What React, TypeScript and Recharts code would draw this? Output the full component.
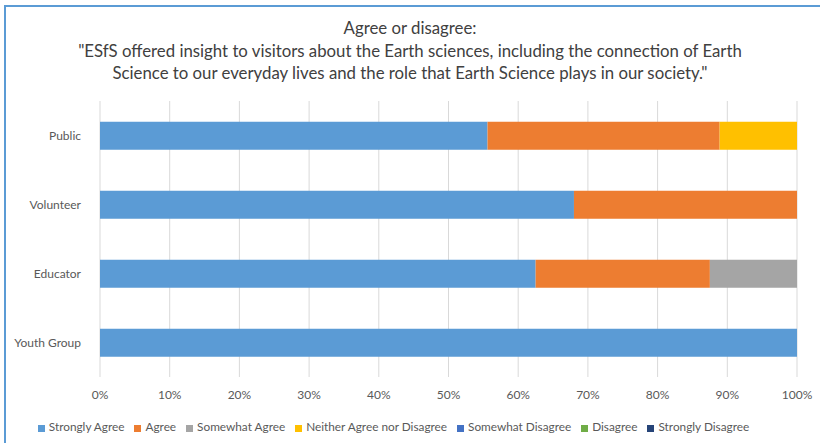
import { BarChart, Bar, XAxis, YAxis, CartesianGrid, Legend } from 'recharts';

const groups = ['Public', 'Volunteer', 'Educator', 'Youth Group'];
const stronglyAgree = [55.6, 68, 62.5, 100];
const agree = [33.3, 32, 25, 0];
const somewhatAgree = [0, 0, 12.5, 0];
const neither = [11.1, 0, 0, 0];
const somewhatDisagree = [0, 0, 0, 0];
const disagree = [0, 0, 0, 0];
const stronglyDisagree = [0, 0, 0, 0];
const xTicks = [0, 10, 20, 30, 40, 50, 60, 70, 80, 90, 100];

const series = [
  { key: 'Strongly Agree', values: stronglyAgree, color: '#5B9BD5' },
  { key: 'Agree', values: agree, color: '#ED7D31' },
  { key: 'Somewhat Agree', values: somewhatAgree, color: '#A5A5A5' },
  { key: 'Neither Agree nor Disagree', values: neither, color: '#FFC000' },
  { key: 'Somewhat Disagree', values: somewhatDisagree, color: '#4472C4' },
  { key: 'Disagree', values: disagree, color: '#70AD47' },
  { key: 'Strongly Disagree', values: stronglyDisagree, color: '#264478' },
];

const data = groups.map((g, i) => {
  const row: Record<string, string | number> = { group: g };
  series.forEach((s) => (row[s.key] = s.values[i]));
  return row;
});

const font = 'Lato, "Open Sans", sans-serif';
const order = (item: any) => series.findIndex((s) => s.key === item.value);

export default function App() {
  return (
    <div style={{ position: 'absolute', left: 0, top: 0, width: 820, height: 443, background: '#fff', overflow: 'hidden', fontFamily: font }}>
      <div style={{ position: 'absolute', left: 4, top: 5, width: 840, height: 460, borderLeft: '2px solid #5B9BD5', borderTop: '2px solid #5B9BD5' }} />
      <div style={{ position: 'absolute', left: 0, top: 17, width: 820, textAlign: 'center', color: '#404040', fontSize: 16.8, lineHeight: '22.5px' }}>
        Agree or disagree:
        <br />
        "ESfS offered insight to visitors about the Earth sciences, including the connection of Earth
        <br />
        Science to our everyday lives and the role that Earth Science plays in our society."
      </div>
      <BarChart
        width={820}
        height={443}
        data={data}
        layout="vertical"
        barCategoryGap="30%"
        margin={{ top: 101, right: 23, left: 0, bottom: 27 }}
        style={{ position: 'absolute', left: 0, top: 0 }}
      >
        <CartesianGrid horizontal={false} stroke="#D9D9D9" />
        <XAxis
          type="number"
          domain={[0, 100]}
          ticks={xTicks}
          tickFormatter={(v) => `${v}%`}
          axisLine={false}
          tickLine={false}
          tick={{ fill: '#595959', fontSize: 12, fontFamily: font }}
          tickMargin={7}
          height={24}
        />
        <YAxis
          type="category"
          dataKey="group"
          width={100}
          axisLine={false}
          tickLine={false}
          tick={{ fill: '#595959', fontSize: 12, fontFamily: font }}
          tickMargin={13}
        />
        {series.map((s) => (
          <Bar key={s.key} dataKey={s.key} stackId="a" fill={s.color} isAnimationActive={false} />
        ))}
        <Legend
          verticalAlign="bottom"
          iconType="square"
          iconSize={7}
          itemSorter={order}
          wrapperStyle={{ bottom: 9, fontSize: 11.8, color: '#595959', fontFamily: font }}
          formatter={(v) => <span style={{ color: '#595959' }}>{v}</span>}
        />
      </BarChart>
    </div>
  );
}
